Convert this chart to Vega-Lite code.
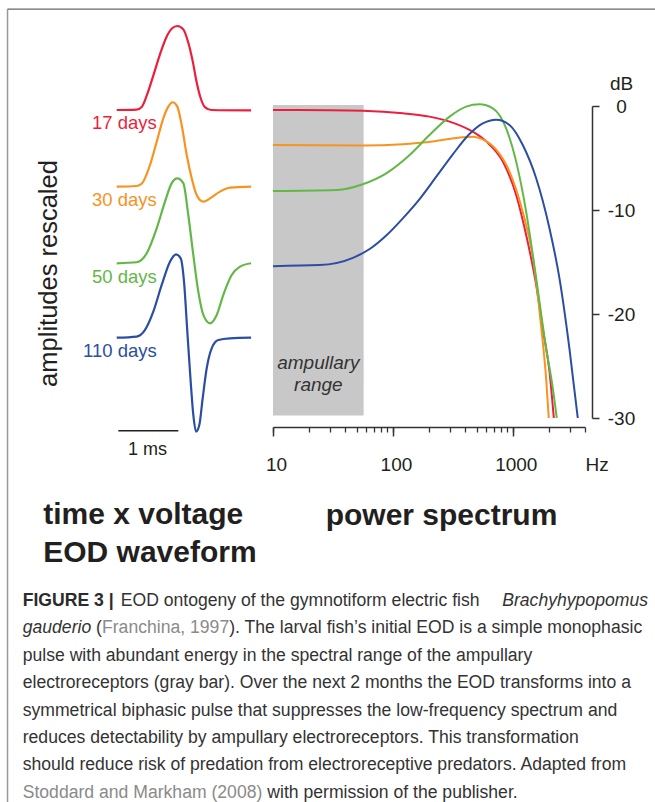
{
  "$schema": "https://vega.github.io/schema/vega-lite/v6.json",
  "width": 312,
  "height": 312,
  "autosize": {"type": "none"},
  "padding": {"left": 273, "top": 106, "right": 70, "bottom": 384},
  "background": "#ffffff",
  "config": {
    "view": {"stroke": null},
    "font": "Liberation Sans",
    "axis": {"grid": false, "labelFont": "Liberation Sans", "titleFont": "Liberation Sans"},
    "text": {"font": "Liberation Sans"}
  },
  "datasets": {
    "spectrum": [
      {"s": "17 days", "f": 10, "db": -0.38}, {"s": "17 days", "f": 30, "db": -0.4}, {"s": "17 days", "f": 56, "db": -0.45},
      {"s": "17 days", "f": 121, "db": -0.7}, {"s": "17 days", "f": 202, "db": -1.02}, {"s": "17 days", "f": 297, "db": -1.5},
      {"s": "17 days", "f": 435, "db": -2.3}, {"s": "17 days", "f": 600, "db": -3.4}, {"s": "17 days", "f": 826, "db": -5.35},
      {"s": "17 days", "f": 1067, "db": -8.55}, {"s": "17 days", "f": 1292, "db": -12.4}, {"s": "17 days", "f": 1566, "db": -17.2},
      {"s": "17 days", "f": 1778, "db": -21.4}, {"s": "17 days", "f": 2021, "db": -25.5}, {"s": "17 days", "f": 2198, "db": -30},
      {"s": "30 days", "f": 10, "db": -3.75}, {"s": "30 days", "f": 56, "db": -3.8}, {"s": "30 days", "f": 121, "db": -3.68},
      {"s": "30 days", "f": 230, "db": -3.36}, {"s": "30 days", "f": 383, "db": -3.0}, {"s": "30 days", "f": 464, "db": -2.95},
      {"s": "30 days", "f": 562, "db": -3.2}, {"s": "30 days", "f": 727, "db": -4.2}, {"s": "30 days", "f": 938, "db": -6.3},
      {"s": "30 days", "f": 1211, "db": -10.2}, {"s": "30 days", "f": 1468, "db": -14.5}, {"s": "30 days", "f": 1723, "db": -21.2},
      {"s": "30 days", "f": 1896, "db": -26.2}, {"s": "30 days", "f": 1995, "db": -30},
      {"s": "50 days", "f": 10, "db": -8.17}, {"s": "50 days", "f": 34, "db": -8.07}, {"s": "50 days", "f": 56, "db": -7.52},
      {"s": "50 days", "f": 88, "db": -6.47}, {"s": "50 days", "f": 138, "db": -4.71}, {"s": "50 days", "f": 202, "db": -2.79},
      {"s": "50 days", "f": 297, "db": -1.02}, {"s": "50 days", "f": 408, "db": -0.06}, {"s": "50 days", "f": 527, "db": 0.16},
      {"s": "50 days", "f": 681, "db": -0.22}, {"s": "50 days", "f": 880, "db": -2.15}, {"s": "50 days", "f": 1067, "db": -5.35},
      {"s": "50 days", "f": 1292, "db": -10.15}, {"s": "50 days", "f": 1566, "db": -16.55}, {"s": "50 days", "f": 1896, "db": -23.3},
      {"s": "50 days", "f": 2154, "db": -27.1}, {"s": "50 days", "f": 2326, "db": -30},
      {"s": "110 days", "f": 10, "db": -15.4}, {"s": "110 days", "f": 24.5, "db": -15.3}, {"s": "110 days", "f": 46.4, "db": -14.6},
      {"s": "110 days", "f": 64, "db": -13.75}, {"s": "110 days", "f": 88, "db": -12.45}, {"s": "110 days", "f": 121, "db": -10.8},
      {"s": "110 days", "f": 167, "db": -8.95}, {"s": "110 days", "f": 230, "db": -6.8}, {"s": "110 days", "f": 316, "db": -4.65},
      {"s": "110 days", "f": 435, "db": -2.7}, {"s": "110 days", "f": 562, "db": -1.68}, {"s": "110 days", "f": 727, "db": -1.32},
      {"s": "110 days", "f": 938, "db": -1.83}, {"s": "110 days", "f": 1211, "db": -3.75}, {"s": "110 days", "f": 1566, "db": -6.95},
      {"s": "110 days", "f": 2021, "db": -11.75}, {"s": "110 days", "f": 2448, "db": -16.55}, {"s": "110 days", "f": 2965, "db": -23.3},
      {"s": "110 days", "f": 3481, "db": -30}
    ],
    "waveform": [
      {"s": "17 days", "t": 0, "v": 0}, {"s": "17 days", "t": 0.33, "v": 0.005}, {"s": "17 days", "t": 0.42, "v": 0.04},
      {"s": "17 days", "t": 0.5, "v": 0.17}, {"s": "17 days", "t": 0.61, "v": 0.41}, {"s": "17 days", "t": 0.72, "v": 0.66},
      {"s": "17 days", "t": 0.83, "v": 0.87}, {"s": "17 days", "t": 0.92, "v": 0.97}, {"s": "17 days", "t": 1.01, "v": 1.0},
      {"s": "17 days", "t": 1.11, "v": 0.96}, {"s": "17 days", "t": 1.19, "v": 0.81}, {"s": "17 days", "t": 1.27, "v": 0.57},
      {"s": "17 days", "t": 1.33, "v": 0.34}, {"s": "17 days", "t": 1.4, "v": 0.14}, {"s": "17 days", "t": 1.47, "v": 0.035},
      {"s": "17 days", "t": 1.58, "v": 0.0}, {"s": "17 days", "t": 2.24, "v": -0.005},
      {"s": "30 days", "t": 0, "v": -0.913}, {"s": "30 days", "t": 0.33, "v": -0.905}, {"s": "30 days", "t": 0.42, "v": -0.875},
      {"s": "30 days", "t": 0.555, "v": -0.655}, {"s": "30 days", "t": 0.667, "v": -0.377}, {"s": "30 days", "t": 0.777, "v": -0.099},
      {"s": "30 days", "t": 0.86, "v": 0.04}, {"s": "30 days", "t": 0.933, "v": 0.092}, {"s": "30 days", "t": 1.01, "v": 0.04},
      {"s": "30 days", "t": 1.083, "v": -0.179}, {"s": "30 days", "t": 1.167, "v": -0.536}, {"s": "30 days", "t": 1.25, "v": -0.813},
      {"s": "30 days", "t": 1.333, "v": -1.012}, {"s": "30 days", "t": 1.444, "v": -1.092}, {"s": "30 days", "t": 1.555, "v": -1.052},
      {"s": "30 days", "t": 1.72, "v": -0.972}, {"s": "30 days", "t": 1.89, "v": -0.925}, {"s": "30 days", "t": 2.24, "v": -0.913},
      {"s": "50 days", "t": 0, "v": -1.825}, {"s": "50 days", "t": 0.333, "v": -1.813}, {"s": "50 days", "t": 0.5, "v": -1.706},
      {"s": "50 days", "t": 0.667, "v": -1.408}, {"s": "50 days", "t": 0.805, "v": -1.09}, {"s": "50 days", "t": 0.917, "v": -0.871},
      {"s": "50 days", "t": 1.01, "v": -0.813}, {"s": "50 days", "t": 1.11, "v": -0.871}, {"s": "50 days", "t": 1.193, "v": -1.25},
      {"s": "50 days", "t": 1.277, "v": -1.726}, {"s": "50 days", "t": 1.36, "v": -2.163}, {"s": "50 days", "t": 1.444, "v": -2.44},
      {"s": "50 days", "t": 1.555, "v": -2.54}, {"s": "50 days", "t": 1.667, "v": -2.44}, {"s": "50 days", "t": 1.777, "v": -2.2},
      {"s": "50 days", "t": 1.917, "v": -1.964}, {"s": "50 days", "t": 2.055, "v": -1.865}, {"s": "50 days", "t": 2.24, "v": -1.825},
      {"s": "110 days", "t": 0, "v": -2.711}, {"s": "110 days", "t": 0.333, "v": -2.698}, {"s": "110 days", "t": 0.472, "v": -2.619},
      {"s": "110 days", "t": 0.61, "v": -2.401}, {"s": "110 days", "t": 0.75, "v": -2.083}, {"s": "110 days", "t": 0.888, "v": -1.806},
      {"s": "110 days", "t": 0.988, "v": -1.718}, {"s": "110 days", "t": 1.067, "v": -1.766}, {"s": "110 days", "t": 1.122, "v": -2.044},
      {"s": "110 days", "t": 1.177, "v": -2.639}, {"s": "110 days", "t": 1.233, "v": -3.234}, {"s": "110 days", "t": 1.277, "v": -3.631},
      {"s": "110 days", "t": 1.322, "v": -3.829}, {"s": "110 days", "t": 1.377, "v": -3.75}, {"s": "110 days", "t": 1.433, "v": -3.432},
      {"s": "110 days", "t": 1.5, "v": -3.075}, {"s": "110 days", "t": 1.583, "v": -2.837}, {"s": "110 days", "t": 1.694, "v": -2.738},
      {"s": "110 days", "t": 1.888, "v": -2.718}, {"s": "110 days", "t": 2.24, "v": -2.711}
    ]
  },
  "layer": [
    {
      "layer": [
        {
          "data": {"values": [{"f0": 10, "f1": 57, "db0": 0.1, "db1": -29.75}]},
          "mark": {"type": "rect", "color": "#c8c8c8"},
          "encoding": {
            "x": {"field": "f0", "type": "quantitative", "scale": {"type": "log", "domain": [10, 4000], "nice": false},
              "axis": {"orient": "bottom", "offset": 9, "values": [10, 20, 30, 40, 50, 60, 70, 80, 90, 100, 200, 300, 400, 500, 600, 700, 800, 900, 1000, 2000, 3000, 4000],
                "labels": false, "tickSize": 5, "tickWidth": 1.3, "tickColor": "#333333", "domainColor": "#333333", "domainWidth": 1.5,
                "title": "power spectrum", "titleFontSize": 30, "titleFontWeight": "bold", "titleColor": "#231f20",
                "titleX": 168, "titleY": 97, "titleAlign": "center", "titleBaseline": "alphabetic"}},
            "x2": {"field": "f1"},
            "y": {"field": "db0", "type": "quantitative", "scale": {"domain": [-30, 0], "nice": false, "zero": false},
              "axis": {"orient": "right", "offset": 7, "values": [0, -10, -20, -30], "tickSize": 7, "tickWidth": 1.5, "tickColor": "#333333",
                "domainColor": "#333333", "domainWidth": 1.5, "labelFontSize": 19, "labelColor": "#231f20", "labelAlign": "center",
                "labelPadding": 22, "labelBaseline": "middle", "labelFlush": false, "labelOverlap": false,
                "labelExpr": "datum.value == 0 ? '0' : '-' + abs(datum.value)",
                "title": "dB", "titleAngle": 0, "titleX": 29, "titleY": -23, "titleAlign": "center", "titleBaseline": "middle",
                "titleFontSize": 19, "titleFontWeight": "normal", "titleColor": "#231f20"}},
            "y2": {"field": "db1"}
          }
        },
        {
          "data": {"name": "spectrum"},
          "mark": {"type": "line", "interpolate": "monotone", "strokeWidth": 2},
          "encoding": {
            "x": {"field": "f", "type": "quantitative",
              "axis": {"orient": "bottom", "offset": 9, "values": [10, 100, 1000], "format": "d", "tickSize": 9, "tickWidth": 1.5,
                "tickColor": "#333333", "domain": false, "labelFontSize": 19, "labelColor": "#231f20", "labelBaseline": "alphabetic",
                "labelPadding": 34, "labelOffset": 3, "labelFlush": false, "labelOverlap": false,
                "title": "Hz", "titleX": 312, "titleY": 43, "titleAlign": "left", "titleBaseline": "alphabetic",
                "titleFontSize": 19, "titleFontWeight": "normal", "titleColor": "#231f20"}},
            "y": {"field": "db", "type": "quantitative", "axis": null},
            "color": {"field": "s", "type": "nominal",
              "scale": {"domain": ["17 days", "30 days", "50 days", "110 days"], "range": ["#ec1e3c", "#f7931e", "#62b847", "#2b4ea2"]},
              "legend": null}
          }
        },
        {
          "data": {"values": [{"f": 23.9, "db": -24.72, "label": ["ampullary", "range"]}]},
          "mark": {"type": "text", "fontStyle": "italic", "fontSize": 19, "color": "#333333", "align": "center", "baseline": "middle", "lineHeight": 21.7},
          "encoding": {
            "x": {"field": "f", "type": "quantitative", "axis": null},
            "y": {"field": "db", "type": "quantitative", "axis": null},
            "text": {"field": "label"}
          }
        }
      ],
      "resolve": {"axis": {"x": "independent", "y": "independent"}}
    },
    {
      "layer": [
        {
          "data": {"name": "waveform"},
          "mark": {"type": "line", "interpolate": "monotone", "strokeWidth": 2.2, "clip": false},
          "encoding": {
            "x": {"field": "t", "type": "quantitative", "scale": {"domain": [2.605, 7.805], "nice": false, "zero": false},
              "axis": {"orient": "bottom", "domain": false, "ticks": false, "labels": false,
                "title": ["time x voltage", "EOD waveform"], "titleFontSize": 30, "titleFontWeight": "bold", "titleColor": "#231f20",
                "titleX": -230.3, "titleY": 105.3, "titleAlign": "left", "titleBaseline": "alphabetic", "titleLineHeight": 38}},
            "y": {"field": "v", "type": "quantitative", "scale": {"domain": [-3.667, 0.0476], "nice": false, "zero": false},
              "axis": {"orient": "left", "domain": false, "ticks": false, "labels": false,
                "title": "amplitudes rescaled", "titleFontSize": 25.5, "titleFontWeight": "normal", "titleColor": "#231f20",
                "titleX": -225, "titleY": 167, "titleAngle": -90, "titleAlign": "center", "titleBaseline": "middle"}},
            "color": {"field": "s", "type": "nominal", "legend": null}
          }
        },
        {
          "data": {"values": [
            {"s": "17 days", "t": 0.667, "v": 0},
            {"s": "30 days", "t": 0.667, "v": -0.913},
            {"s": "50 days", "t": 0.667, "v": -1.825},
            {"s": "110 days", "t": 0.667, "v": -2.711}
          ]},
          "mark": {"type": "text", "align": "right", "baseline": "middle", "dy": 13.5, "fontSize": 18.5, "clip": false},
          "encoding": {
            "x": {"field": "t", "type": "quantitative", "axis": null},
            "y": {"field": "v", "type": "quantitative", "axis": null},
            "color": {"field": "s", "type": "nominal", "legend": null},
            "text": {"field": "s"}
          }
        },
        {
          "data": {"values": [{"t0": 0.027, "t1": 1.027, "v": -3.818}]},
          "mark": {"type": "rule", "color": "#231f20", "strokeWidth": 1.5, "clip": false},
          "encoding": {
            "x": {"field": "t0", "type": "quantitative", "axis": null},
            "x2": {"field": "t1"},
            "y": {"field": "v", "type": "quantitative", "axis": null}
          }
        },
        {
          "data": {"values": [{"t": 0.515, "v": -3.818, "label": "1 ms"}]},
          "mark": {"type": "text", "align": "center", "baseline": "alphabetic", "dy": 24, "fontSize": 18, "color": "#231f20", "clip": false},
          "encoding": {
            "x": {"field": "t", "type": "quantitative", "axis": null},
            "y": {"field": "v", "type": "quantitative", "axis": null},
            "text": {"field": "label"}
          }
        }
      ],
      "resolve": {"axis": {"x": "independent", "y": "independent"}}
    },
    {
      "layer": [
        {
          "data": {"values": [{}]},
          "mark": {"type": "rule", "color": "#9a9a9a", "strokeWidth": 1.5},
          "encoding": {
            "x": {"datum": -0.0243, "type": "quantitative", "scale": {"domain": [0.4003, 0.8993], "nice": false, "zero": false}, "axis": null},
            "y": {"datum": -20.781, "type": "quantitative", "scale": {"domain": [-17.248, -5.861], "reverse": true, "nice": false, "zero": false}, "axis": null},
            "y2": {"datum": 8.6}
          }
        },
        {
          "data": {"values": [{}]},
          "mark": {"type": "rule", "color": "#666666", "strokeWidth": 1.3},
          "encoding": {
            "x": {"datum": -0.0243, "type": "quantitative", "axis": null},
            "x2": {"datum": 1.03},
            "y": {"datum": -20.781, "type": "quantitative", "axis": null}
          }
        },
        {
          "data": {"values": [
            {"line": 3, "text": "pulse with abundant energy in the spectral range of the ampullary"},
            {"line": 4, "text": "electroreceptors (gray bar). Over the next 2 months the EOD transforms into a"},
            {"line": 5, "text": "symmetrical biphasic pulse that suppresses the low-frequency spectrum and"},
            {"line": 6, "text": "reduces detectability by ampullary electroreceptors. This transformation"},
            {"line": 7, "text": "should reduce risk of predation from electroreceptive predators. Adapted from"}
          ]},
          "mark": {"type": "text", "align": "left", "baseline": "alphabetic", "fontSize": 17.6, "color": "#333333"},
          "encoding": {
            "x": {"datum": 0, "type": "quantitative", "axis": null},
            "y": {"field": "line", "type": "quantitative", "axis": null},
            "text": {"field": "text"}
          }
        },
        {
          "data": {"values": [{"line": 1, "text": "FIGURE 3 |"}]},
          "mark": {"type": "text", "align": "left", "baseline": "alphabetic", "fontSize": 17.6, "fontWeight": "bold", "color": "#2b2b2b"},
          "encoding": {
            "x": {"datum": 0, "type": "quantitative", "axis": null},
            "y": {"field": "line", "type": "quantitative", "axis": null},
            "text": {"field": "text"}
          }
        },
        {
          "data": {"values": [{"line": 1, "text": "EOD ontogeny of the gymnotiform electric fish"}]},
          "mark": {"type": "text", "align": "left", "baseline": "alphabetic", "fontSize": 17.6, "color": "#333333", "dx": 98},
          "encoding": {
            "x": {"datum": 0, "type": "quantitative", "axis": null},
            "y": {"field": "line", "type": "quantitative", "axis": null},
            "text": {"field": "text"}
          }
        },
        {
          "data": {"values": [{"line": 1, "text": "Brachyhypopomus"}]},
          "mark": {"type": "text", "align": "right", "baseline": "alphabetic", "fontSize": 17.6, "fontStyle": "italic", "color": "#333333"},
          "encoding": {
            "x": {"datum": 1, "type": "quantitative", "axis": null},
            "y": {"field": "line", "type": "quantitative", "axis": null},
            "text": {"field": "text"}
          }
        },
        {
          "data": {"values": [{"line": 2, "text": "gauderio"}]},
          "mark": {"type": "text", "align": "left", "baseline": "alphabetic", "fontSize": 17.6, "fontStyle": "italic", "color": "#333333"},
          "encoding": {
            "x": {"datum": 0, "type": "quantitative", "axis": null},
            "y": {"field": "line", "type": "quantitative", "axis": null},
            "text": {"field": "text"}
          }
        },
        {
          "data": {"values": [{"line": 2, "text": "("}]},
          "mark": {"type": "text", "align": "left", "baseline": "alphabetic", "fontSize": 17.6, "color": "#333333", "dx": 73.4},
          "encoding": {
            "x": {"datum": 0, "type": "quantitative", "axis": null},
            "y": {"field": "line", "type": "quantitative", "axis": null},
            "text": {"field": "text"}
          }
        },
        {
          "data": {"values": [{"line": 2, "text": "Franchina, 1997"}]},
          "mark": {"type": "text", "align": "left", "baseline": "alphabetic", "fontSize": 17.6, "color": "#8a8a8a", "dx": 79.3},
          "encoding": {
            "x": {"datum": 0, "type": "quantitative", "axis": null},
            "y": {"field": "line", "type": "quantitative", "axis": null},
            "text": {"field": "text"}
          }
        },
        {
          "data": {"values": [{"line": 2, "text": "). The larval fish’s initial EOD is a simple monophasic"}]},
          "mark": {"type": "text", "align": "left", "baseline": "alphabetic", "fontSize": 17.6, "color": "#333333", "dx": 206.5},
          "encoding": {
            "x": {"datum": 0, "type": "quantitative", "axis": null},
            "y": {"field": "line", "type": "quantitative", "axis": null},
            "text": {"field": "text"}
          }
        },
        {
          "data": {"values": [{"line": 8, "text": "Stoddard and Markham (2008)"}]},
          "mark": {"type": "text", "align": "left", "baseline": "alphabetic", "fontSize": 17.6, "color": "#8a8a8a"},
          "encoding": {
            "x": {"datum": 0, "type": "quantitative", "axis": null},
            "y": {"field": "line", "type": "quantitative", "axis": null},
            "text": {"field": "text"}
          }
        },
        {
          "data": {"values": [{"line": 8, "text": "with permission of the publisher."}]},
          "mark": {"type": "text", "align": "left", "baseline": "alphabetic", "fontSize": 17.6, "color": "#333333", "dx": 244.6},
          "encoding": {
            "x": {"datum": 0, "type": "quantitative", "axis": null},
            "y": {"field": "line", "type": "quantitative", "axis": null},
            "text": {"field": "text"}
          }
        }
      ]
    }
  ],
  "resolve": {"scale": {"x": "independent", "y": "independent"}, "axis": {"x": "independent", "y": "independent"}}
}
